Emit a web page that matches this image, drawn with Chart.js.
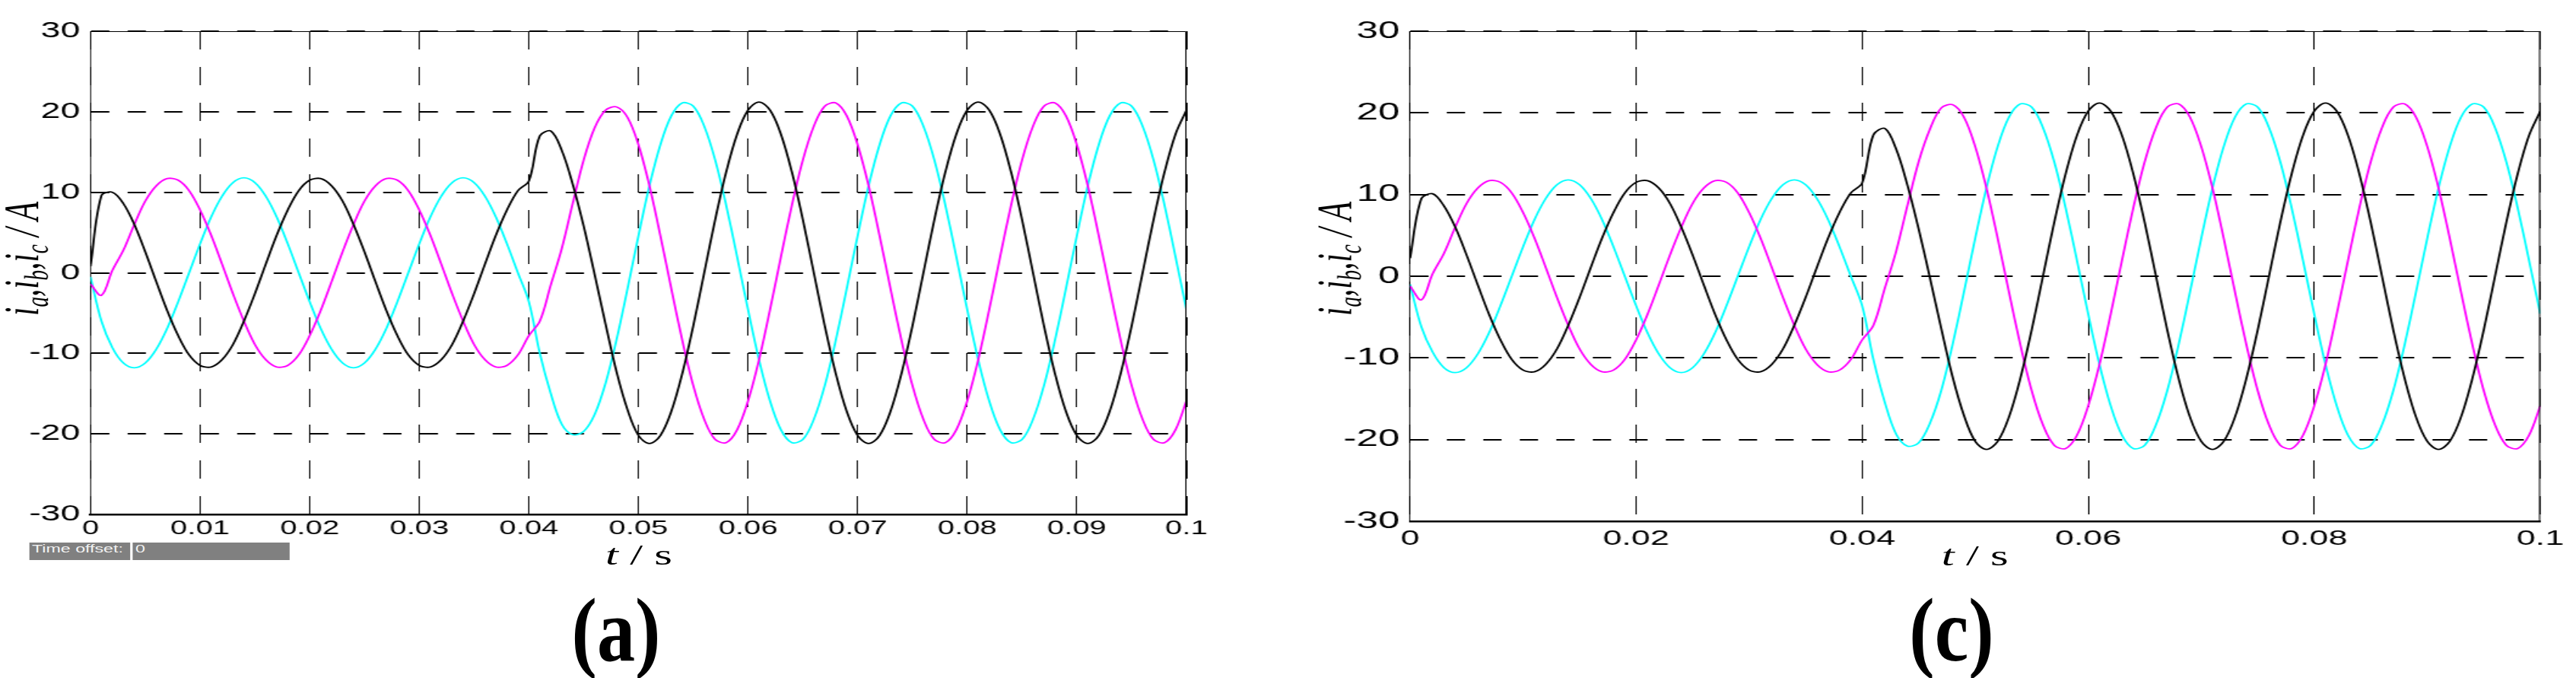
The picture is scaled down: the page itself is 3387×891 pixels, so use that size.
<!DOCTYPE html>
<html>
<head>
<meta charset="utf-8">
<script src="https://cdn.jsdelivr.net/npm/chart.js@4.4.1/dist/chart.umd.min.js"></script>
<style>
  html, body { margin:0; padding:0; background:#fff; width:3387px; height:891px; overflow:hidden; }
  .panel { position:absolute; top:0; height:891px; transform:scaleX(1.6); transform-origin:0 0; }
  .panel canvas { position:absolute; left:0; top:0; }
  .ytitle { position:absolute; white-space:nowrap; font-family:'Liberation Serif','Times New Roman',serif; font-style:italic; font-size:41px; line-height:41px; color:#000; transform:translate(-50%,-50%) rotate(-90deg); }
  .ytitle sub { font-size:0.66em; line-height:0; vertical-align:-0.3em; }
  .xtitle { position:absolute; width:200px; text-align:center; white-space:nowrap; font-family:'Liberation Serif','Times New Roman',serif; font-size:38px; line-height:38px; color:#000; }
  .tbox { position:absolute; top:713px; height:23px; background:#808080; color:#f2f2f2; font-family:'Liberation Sans',Arial,sans-serif; font-size:14.5px; line-height:17px; padding-left:2.5px; box-sizing:border-box; white-space:nowrap; overflow:hidden; }
  .plabel { position:absolute; top:770px; width:300px; text-align:center; font-family:'Liberation Serif','Times New Roman',serif; font-weight:bold; font-size:118px; line-height:118px; color:#000; transform:scaleX(0.85); }
</style>
</head>
<body>
<div class="panel" id="pa" style="left:0px; width:1070px;">
  <canvas id="ca" width="1070" height="891"></canvas>
  <div class="ytitle" style="left:17.5px; top:340px;"><i>i</i><sub>a</sub>,<i>i</i><sub>b</sub>,<i>i</i><sub>c</sub> / <i>A</i></div>
  <div class="xtitle" style="left:425px; top:710px;"><i>t</i> / s</div>
  <div class="tbox" style="left:23.75px; width:83.1px;">Time offset:</div>
  <div class="tbox" style="left:108.75px; width:128.75px;">0</div>
</div>
<div class="panel" id="pc" style="left:1712px; width:1046px;">
  <canvas id="cc" width="1046" height="891"></canvas>
  <div class="ytitle" style="left:26.5px; top:340px;"><i>i</i><sub>a</sub>,<i>i</i><sub>b</sub>,<i>i</i><sub>c</sub> / <i>A</i></div>
  <div class="xtitle" style="left:453px; top:711px;"><i>t</i> / s</div>
</div>
<div class="plabel" style="left:660px;">(a)</div>
<div class="plabel" style="left:2416px;">(c)</div>

<script>
// time axis (s)
const T = [0,0.001,0.002,0.003,0.004,0.005,0.006,0.007,0.008,0.009,
0.01,0.011,0.012,0.013,0.014,0.015,0.016,0.017,0.018,0.019,
0.02,0.021,0.022,0.023,0.024,0.025,0.026,0.027,0.028,0.029,
0.03,0.031,0.032,0.033,0.034,0.035,0.036,0.037,0.038,0.039,
0.04,0.041,0.042,0.043,0.044,0.045,0.046,0.047,0.048,0.049,
0.05,0.051,0.052,0.053,0.054,0.055,0.056,0.057,0.058,0.059,
0.06,0.061,0.062,0.063,0.064,0.065,0.066,0.067,0.068,0.069,
0.07,0.071,0.072,0.073,0.074,0.075,0.076,0.077,0.078,0.079,
0.08,0.081,0.082,0.083,0.084,0.085,0.086,0.087,0.088,0.089,
0.09,0.091,0.092,0.093,0.094,0.095,0.096,0.097,0.098,0.099,
0.1];

// panel (a) currents (A)
const blackA = [0.8,9.6,10.0,8.6,6.0,2.6,-1.1,-4.7,-7.8,-10.2,
-11.5,-11.7,-10.8,-8.9,-6.0,-2.6,1.1,4.7,7.8,10.2,
11.5,11.7,10.8,8.9,6.0,2.6,-1.1,-4.7,-7.8,-10.2,
-11.5,-11.7,-10.8,-8.9,-6.0,-2.6,1.1,4.7,7.8,10.2,
11.4,17.0,17.6,15.2,11.0,5.8,-0.2,-6.4,-12.3,-17.0,
-20.2,-21.2,-20.2,-17.2,-12.5,-6.6,0.0,6.6,12.5,17.2,
20.2,21.2,20.2,17.2,12.5,6.6,0.0,-6.6,-12.5,-17.2,
-20.2,-21.2,-20.2,-17.2,-12.5,-6.6,0.0,6.6,12.5,17.2,
20.2,21.2,20.2,17.2,12.5,6.6,0.0,-6.6,-12.5,-17.2,
-20.2,-21.2,-20.2,-17.2,-12.5,-6.6,0.0,6.6,12.5,17.2,
20.2];
const magentaA = [-1.4,-2.8,0.3,2.8,6.0,8.9,10.8,11.7,11.5,10.2,
7.8,4.7,1.1,-2.6,-6.0,-8.9,-10.8,-11.7,-11.5,-10.2,
-7.8,-4.7,-1.1,2.6,6.0,8.9,10.8,11.7,11.5,10.2,
7.8,4.7,1.1,-2.6,-6.0,-8.9,-10.8,-11.7,-11.5,-10.2,
-7.8,-6.0,-1.5,3.0,8.6,14.0,18.0,20.2,20.6,19.3,
15.9,10.8,4.6,-2.0,-8.4,-14.0,-18.2,-20.7,-21.1,-19.5,
-15.9,-10.8,-4.6,2.0,8.4,14.0,18.2,20.7,21.1,19.5,
15.9,10.8,4.6,-2.0,-8.4,-14.0,-18.2,-20.7,-21.1,-19.5,
-15.9,-10.8,-4.6,2.0,8.4,14.0,18.2,20.7,21.1,19.5,
15.9,10.8,4.6,-2.0,-8.4,-14.0,-18.2,-20.7,-21.1,-19.5,
-15.9];
const cyanA = [-0.5,-6.0,-9.3,-11.2,-11.8,-11.2,-9.5,-6.9,-3.6,0.0,
3.6,6.9,9.5,11.2,11.8,11.2,9.5,6.9,3.6,0.0,
-3.6,-6.9,-9.5,-11.2,-11.8,-11.2,-9.5,-6.9,-3.6,0.0,
3.6,6.9,9.5,11.2,11.8,11.2,9.5,6.9,3.6,0.0,
-3.6,-10.0,-15.0,-18.8,-20.1,-19.7,-17.6,-13.7,-8.3,-2.0,
4.6,10.8,15.9,19.5,21.1,20.7,18.2,14.0,8.4,2.0,
-4.6,-10.8,-15.9,-19.5,-21.1,-20.7,-18.2,-14.0,-8.4,-2.0,
4.6,10.8,15.9,19.5,21.1,20.7,18.2,14.0,8.4,2.0,
-4.6,-10.8,-15.9,-19.5,-21.1,-20.7,-18.2,-14.0,-8.4,-2.0,
4.6,10.8,15.9,19.5,21.1,20.7,18.2,14.0,8.4,2.0,
-4.6];

// panel (c) currents (A)
const blackC = [2.2,9.5,10.1,8.6,6.0,2.6,-1.1,-4.7,-7.8,-10.2,
-11.5,-11.7,-10.8,-8.9,-6.0,-2.6,1.1,4.7,7.8,10.2,
11.5,11.7,10.8,8.9,6.0,2.6,-1.1,-4.7,-7.8,-10.2,
-11.5,-11.7,-10.8,-8.9,-6.0,-2.6,1.1,4.7,7.8,10.2,
11.4,17.3,18.1,15.6,11.2,5.8,-0.2,-6.4,-12.3,-17.0,
-20.2,-21.2,-20.2,-17.2,-12.5,-6.6,0.0,6.6,12.5,17.2,
20.2,21.2,20.2,17.2,12.5,6.6,0.0,-6.6,-12.5,-17.2,
-20.2,-21.2,-20.2,-17.2,-12.5,-6.6,0.0,6.6,12.5,17.2,
20.2,21.2,20.2,17.2,12.5,6.6,0.0,-6.6,-12.5,-17.2,
-20.2,-21.2,-20.2,-17.2,-12.5,-6.6,0.0,6.6,12.5,17.2,
20.2];
const magentaC = [-1.2,-2.9,0.3,2.8,6.0,8.9,10.8,11.7,11.5,10.2,
7.8,4.7,1.1,-2.6,-6.0,-8.9,-10.8,-11.7,-11.5,-10.2,
-7.8,-4.7,-1.1,2.6,6.0,8.9,10.8,11.7,11.5,10.2,
7.8,4.7,1.1,-2.6,-6.0,-8.9,-10.8,-11.7,-11.5,-10.2,
-7.8,-6.0,-1.5,3.0,8.6,14.0,18.0,20.6,21.0,19.5,
15.9,10.8,4.6,-2.0,-8.4,-14.0,-18.2,-20.7,-21.1,-19.5,
-15.9,-10.8,-4.6,2.0,8.4,14.0,18.2,20.7,21.1,19.5,
15.9,10.8,4.6,-2.0,-8.4,-14.0,-18.2,-20.7,-21.1,-19.5,
-15.9,-10.8,-4.6,2.0,8.4,14.0,18.2,20.7,21.1,19.5,
15.9,10.8,4.6,-2.0,-8.4,-14.0,-18.2,-20.7,-21.1,-19.5,
-15.9];
const cyanC = [-1.0,-6.2,-9.3,-11.2,-11.8,-11.2,-9.5,-6.9,-3.6,0.0,
3.6,6.9,9.5,11.2,11.8,11.2,9.5,6.9,3.6,0.0,
-3.6,-6.9,-9.5,-11.2,-11.8,-11.2,-9.5,-6.9,-3.6,0.0,
3.6,6.9,9.5,11.2,11.8,11.2,9.5,6.9,3.6,0.0,
-3.6,-10.2,-15.4,-19.3,-20.8,-20.4,-18.0,-14.0,-8.4,-2.0,
4.6,10.8,15.9,19.5,21.1,20.7,18.2,14.0,8.4,2.0,
-4.6,-10.8,-15.9,-19.5,-21.1,-20.7,-18.2,-14.0,-8.4,-2.0,
4.6,10.8,15.9,19.5,21.1,20.7,18.2,14.0,8.4,2.0,
-4.6,-10.8,-15.9,-19.5,-21.1,-20.7,-18.2,-14.0,-8.4,-2.0,
4.6,10.8,15.9,19.5,21.1,20.7,18.2,14.0,8.4,2.0,
-4.6];

// axis settings
const X_MIN = 0, X_MAX = 0.1, Y_MIN = -30, Y_MAX = 30, Y_STEP = 10;
const X_STEP_A = 0.01, X_STEP_C = 0.02;
const COLORS = ['#000000', '#ff00ff', '#00ffff'];

const framePlugin = {
  id: 'frame',
  afterDatasetsDraw(chart) {
    const { ctx, chartArea: a } = chart;
    ctx.save();
    ctx.strokeStyle = '#000';
    ctx.lineWidth = 1;
    ctx.setLineDash([]);
    ctx.beginPath();
    ctx.moveTo(a.left, a.top + 0.5);
    ctx.lineTo(a.right - 0.5, a.top + 0.5);
    ctx.lineTo(a.right - 0.5, a.bottom);
    ctx.stroke();
    ctx.restore();
  }
};

function build(id, series, cfg) {
  return new Chart(document.getElementById(id), {
    type: 'line',
    data: {
      datasets: series.map((vals, j) => ({
        data: T.map((t, i) => ({ x: t, y: vals[i] })),
        borderColor: COLORS[j],
        borderWidth: 1.8,
        pointRadius: 0,
        tension: 0.35,
        fill: false
      }))
    },
    options: {
      responsive: false,
      animation: false,
      devicePixelRatio: 1,
      layout: { padding: { left: 0, right: cfg.padRight, top: 41, bottom: 0 } },
      plugins: { legend: { display: false }, tooltip: { enabled: false } },
      scales: {
        x: {
          type: 'linear', min: X_MIN, max: X_MAX,
          ticks: {
            stepSize: cfg.xStep, padding: cfg.xPad, maxRotation: 0, autoSkip: false,
            color: '#000', font: { family: "'Liberation Sans', Arial, sans-serif", size: cfg.fs },
            callback: v => String(+v.toFixed(2))
          },
          grid: { color: '#000', lineWidth: 1, drawTicks: false },
          border: { display: true, color: '#000', width: 2.5, dash: [24, 23] },
          afterFit: s => { s.height = cfg.xH; }
        },
        y: {
          min: Y_MIN, max: Y_MAX,
          ticks: {
            stepSize: Y_STEP, padding: 8.5,
            color: '#000', font: { family: "'Liberation Sans', Arial, sans-serif", size: cfg.fsY }
          },
          grid: { color: '#000', lineWidth: 2, drawTicks: false },
          border: { display: true, color: '#000', width: 0.8, dash: [15, 15] },
          afterFit: s => { s.width = cfg.yW; }
        }
      }
    },
    plugins: [framePlugin]
  });
}

build('ca', [blackA, magentaA, cyanA], { padRight: 95, xStep: X_STEP_A, xPad: 4.2, fs: 25, fsY: 29, xH: 215, yW: 74.375 });
build('cc', [blackC, magentaC, cyanC], { padRight: 28.5, xStep: X_STEP_C, xPad: 6.5, fs: 28, fsY: 32, xH: 206, yW: 88.75 });
</script>
</body>
</html>
